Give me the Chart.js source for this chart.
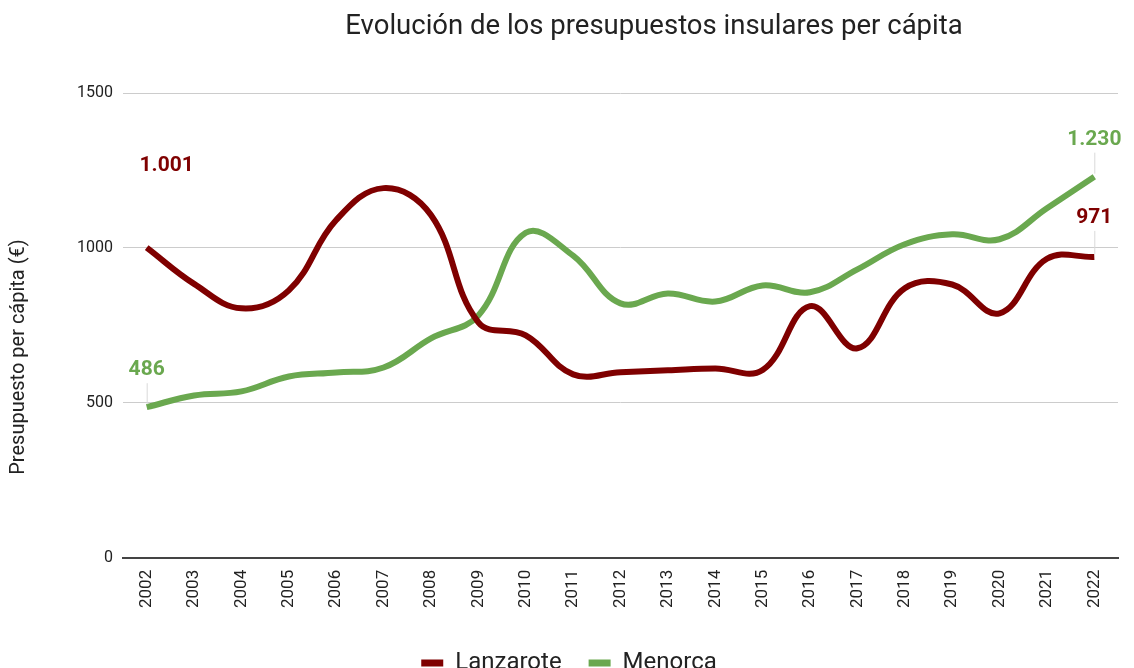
<!DOCTYPE html>
<html>
<head>
<meta charset="utf-8">
<script src="https://cdn.jsdelivr.net/npm/chart.js@4"></script>
<style>
  html, body { margin: 0; padding: 0; background: #fff; }
  #wrap { width: 1134px; height: 668px; }
</style>
</head>
<body>
<div id="wrap"><canvas id="chartzz"></canvas></div>
<script>
const years = ['2002','2003','2004','2005','2006','2007','2008','2009','2010','2011','2012','2013','2014','2015','2016','2017','2018','2019','2020','2021','2022'];
const lanzarote = [1001, 884, 805, 863, 1090, 1193, 1106, 760, 718, 592, 599, 605, 611, 606, 812, 676, 870, 882, 789, 965, 971];
const menorca = [486, 524, 537, 585, 598, 614, 708, 782, 1049, 975, 821, 853, 827, 879, 857, 931, 1012, 1044, 1028, 1128, 1230];
const yTicks = [0, 500, 1000, 1500];

const RED = '#7f0000';
const GREEN = '#6aa84f';

// labels on first/last points: [dataset, index, text, dx, dy, leader]
const pointLabels = [
  [0, 0, '1.001', 20, -82, false],
  [1, 0, '486', 0, -37, true],
  [1, 20, '1.230', 0, -37, true],
  [0, 20, '971', 0, -39, true]
];

const labelPlugin = {
  id: 'pointLabels',
  afterDatasetsDraw(chart) {
    const c = chart.ctx;
    c.save();
    pointLabels.forEach(function(l) {
      const pt = chart.getDatasetMeta(l[0]).data[l[1]];
      const col = chart.data.datasets[l[0]].borderColor;
      if (l[5]) {
        c.strokeStyle = '#d9d9d9';
        c.lineWidth = 1;
        c.beginPath();
        c.moveTo(pt.x + 0.5, pt.y - 3);
        c.lineTo(pt.x + 0.5, pt.y + l[4] + 13);
        c.stroke();
      }
      c.fillStyle = col;
      c.font = 'bold 21px Roboto';
      c.textAlign = 'center';
      c.textBaseline = 'middle';
      c.fillText(l[2], pt.x + l[3], pt.y + l[4]);
    });
    c.restore();
  },
  afterDraw(chart) {
    const c = chart.ctx;
    c.save();
    c.fillStyle = '#222';
    c.font = '27.5px Roboto';
    c.textAlign = 'center';
    c.textBaseline = 'middle';
    c.fillText('Evolución de los presupuestos insulares per cápita', 654, 27);
    // y axis title
    c.translate(19, 357);
    c.rotate(-Math.PI / 2);
    c.font = '20px Roboto';
    c.fillText('Presupuesto per cápita (€)', 0, 0);
    c.restore();
  }
};

const ctx1 = document.getElementById('chartzz');
const chartzz = new Chart(ctx1, {
  type: 'line',
  data: {
    labels: years,
    datasets: [{
      label: 'Lanzarote',
      data: lanzarote,
      borderColor: RED,
      backgroundColor: RED,
      borderWidth: 6,
      pointRadius: 0,
      tension: 0.4
    }, {
      label: 'Menorca',
      data: menorca,
      borderColor: GREEN,
      backgroundColor: GREEN,
      borderWidth: 6,
      pointRadius: 0,
      tension: 0.4
    }]
  },
  options: {
    responsive: true,
    maintainAspectRatio: false,
    animation: false,
    layout: { padding: { top: 93, right: 16, left: 20, bottom: -17 } },
    plugins: {
      title: { display: false },
      tooltip: { enabled: false },
      legend: {
        position: 'bottom',
        labels: {
          color: '#222',
          font: { family: 'Roboto', size: 24 },
          boxWidth: 22,
          boxHeight: 7,
          padding: 27,
          generateLabels(chart) {
            const items = Chart.defaults.plugins.legend.labels.generateLabels(chart);
            items.forEach(it => { it.lineWidth = 0; });
            return items;
          }
        }
      }
    },
    scales: {
      x: {
        offset: true,
        afterFit(axis) { axis.height += 4; },
        grid: { display: false, drawTicks: false },
        border: { color: '#444', width: 2 },
        ticks: {
          color: '#222',
          font: { family: 'Roboto', size: 17 },
          minRotation: 90,
          maxRotation: 90,
          padding: 12,
          autoSkip: false
        }
      },
      y: {
        min: 0,
        max: 1500,
        afterFit(axis) { axis.width = 103; },
        afterBuildTicks(axis) { axis.ticks = yTicks.map(v => ({ value: v })); },
        grid: {
          color: ctx => ctx.tick.value === 0 ? '#444' : '#cccccc',
          lineWidth: ctx => ctx.tick.value === 0 ? 2 : 1,
          drawTicks: false
        },
        border: { display: false },
        ticks: {
          color: '#222',
          font: { family: 'Roboto', size: 16 },
          padding: 10,
          callback: v => String(v)
        }
      }
    }
  },
  plugins: [labelPlugin]
});
</script>
</body>
</html>
